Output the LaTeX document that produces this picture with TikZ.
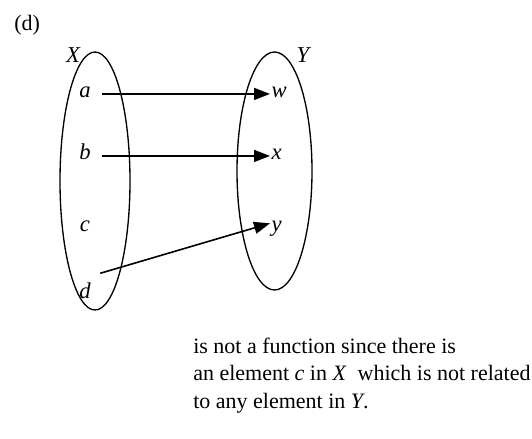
\documentclass[tikz,border=0pt]{standalone}
\usepackage{fontspec}
\setmainfont{Liberation Serif}
\usetikzlibrary{arrows.meta, shapes.geometric}

\begin{document}
\begin{tikzpicture}[x=0.75pt, y=-0.75pt,
  set/.style={draw, ellipse, line width=1pt, inner sep=0pt},
  elem/.style={font=\fontsize{17}{20}\selectfont\itshape, inner sep=1pt,
               text height=1ex, text depth=0pt},
  map/.style={-{Triangle[length=12pt, width=9pt]}, line width=1.2pt},
  txt/.style={font=\fontsize{16.5}{20.6}\selectfont, inner sep=0pt},
]
\useasboundingbox (0,0) rectangle (532,439);

%% Part label
\node[txt, anchor=base west] (part) at (14,30) {(d)};

%% The two sets
\node[set, minimum width=52.5pt, minimum height=193.5pt] (setX) at (95,181) {};
\node[set, minimum width=56.25pt, minimum height=178.5pt] (setY) at (274.5,171) {};
\node[elem, anchor=base] (lblX) at (73,62) {X};
\node[elem, anchor=base] (lblY) at (303,62) {Y};

%% Elements of X
\foreach \n/\yy in {a/97, b/159, c/231, d/298} {
  \node[elem, anchor=base] (\n) at (85,\yy) {\n};
}
%% Elements of Y
\foreach \n/\yy in {w/97, x/159, y/231} {
  \node[elem, anchor=base west] (\n) at (270,\yy) {\n};
}

%% Relation
\draw[map, shorten <=7pt] (a.east) -- (w.west);
\draw[map, shorten <=7pt] (b.east) -- (x.west);
\draw[map] ([shift={(8,-17)}]d.north east) -- (y.north west);

%% Remark
\node[txt, anchor=base west, align=left] (remark) at (193,408)
  {is not a function since there is\\
   an element \textit{c} in \textit{X}\ \ which is not related\\
   to any element in \textit{Y}.};
\end{tikzpicture}
\end{document}
